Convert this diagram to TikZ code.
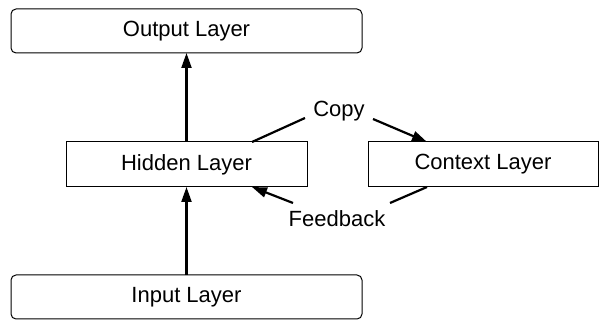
\documentclass[tikz,border=0pt]{standalone}
\usepackage{fontspec}
\setmainfont{Liberation Sans}
\usetikzlibrary{arrows.meta}
\begin{document}
\begin{tikzpicture}[x=1pt,y=-1pt,
  font=\fontsize{22}{26}\selectfont,
  layerbox/.style={draw, line width=1pt, rounded corners=5pt},
  plainbox/.style={draw, line width=1pt},
  flow/.style={line width=2.2pt, -{Triangle[length=15pt,width=10pt]}},
  link/.style={line width=2.2pt}]
\useasboundingbox (0,0) rectangle (600,320);
% layer boxes
\draw[layerbox] (11,9) rectangle (362,53);
\node (output) at (186.5,31) {Output Layer};
\draw[layerbox] (11,275) rectangle (362,319);
\node (input) at (186.5,297) {Input Layer};
\draw[plainbox] (66,142) rectangle (307,187);
\node (hidden) at (186.5,164.5) {Hidden Layer};
\draw[plainbox] (368,142) rectangle (598,187);
\node (context) at (483,164.5) {Context Layer};
% anchor points on the box edges
\coordinate (inTop) at (186.5,275);
\coordinate (hidBot) at (186.5,187);
\coordinate (hidTop) at (186.5,142);
\coordinate (outBot) at (186.5,53);
\coordinate (cpA) at (252,142);
\coordinate (cpB) at (305,118);
\coordinate (cpC) at (373,119);
\coordinate (cpD) at (427,142);
\coordinate (fbA) at (427,187);
\coordinate (fbB) at (390,203);
\coordinate (fbC) at (293,203);
\coordinate (fbD) at (252,187);
% vertical flow
\draw[flow] (inTop) -- (hidBot);
\draw[flow] (hidTop) -- (outBot);
% copy and feedback links
\node (copy) at (339,111) {Copy};
\draw[link] (cpA) -- (cpB);
\draw[flow] (cpC) -- (cpD);
\node (feedback) at (337,219) {Feedback};
\draw[link] (fbA) -- (fbB);
\draw[flow] (fbC) -- (fbD);
\end{tikzpicture}
\end{document}
